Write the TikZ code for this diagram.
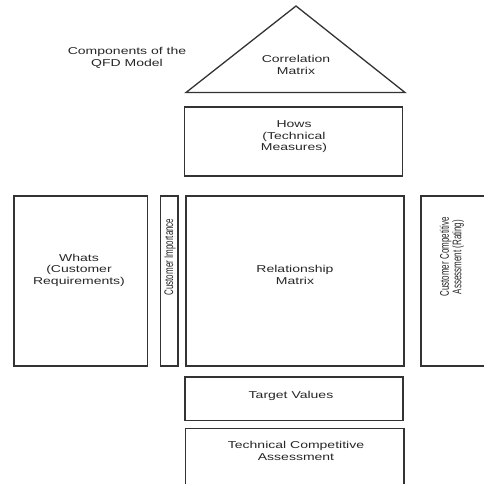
\documentclass[tikz,border=0pt]{standalone}
\usepackage{fontspec}
\newfontfamily\hfont[FakeStretch=1.4]{Liberation Sans}
\newfontfamily\vfont[FakeStretch=0.64]{Liberation Sans}
\begin{document}
\begin{tikzpicture}[x=1pt,y=-1pt,
  blk/.style={draw=black!80,line width=1.3pt},
  lbl/.style={font=\hfont\fontsize{10}{11.5}\selectfont,align=center,inner sep=0pt,text=black!85},
  vlbl/.style={font=\vfont\fontsize{12.5}{12.5}\selectfont,align=center,inner sep=0pt,rotate=90,text=black!85}]
\useasboundingbox (0,0) rectangle (484,484);
\begin{scope}
\clip (0,0) rectangle (484,484);
% triangle
\coordinate (apex) at (296,6);
\coordinate (bl) at (186,92.5);
\coordinate (br) at (405,92.5);
\draw[blk,line join=miter] (bl) -- (apex) -- (br) -- cycle;
\node[lbl] (corr) at (296,65) {Correlation\\Matrix};
\node[lbl] (title) at (127,58) {Components of the\\QFD Model};
% hows
\draw[blk] (184.5,107) rectangle (402.5,176);
\node[lbl] (hows) at (294,137) {Hows\\(Technical\\Measures)};
% whats
\draw[blk] (14,196) rectangle (147.5,366);
\node[lbl] (whats) at (79,270) {Whats\\(Customer\\Requirements)};
% customer importance
\draw[blk] (160.5,196) rectangle (178,366);
\node[vlbl] (ci) at (170,257) {Customer Importance};
% relationship
\draw[blk] (186,196) rectangle (404,366);
\node[lbl] (rel) at (295,275) {Relationship\\Matrix};
% customer competitive assessment
\draw[blk] (421,196) rectangle (495,366);
\node[vlbl] (cca) at (452,257) {Customer Competitive\\Assessment (Rating)};
% target values
\draw[blk] (185,377) rectangle (403,420.5);
\node[lbl] (tv) at (291,396) {Target Values};
% technical competitive assessment
\draw[blk] (185.5,428.5) rectangle (404,495);
\node[lbl] (tca) at (296,451) {Technical Competitive\\Assessment};
\end{scope}
\end{tikzpicture}
\end{document}
